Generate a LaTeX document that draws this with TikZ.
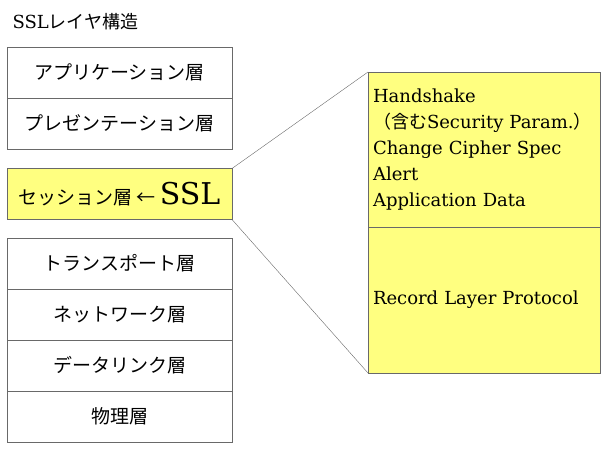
\documentclass[tikz,border=0pt]{standalone}
\usepackage{fontspec}
\setmainfont{DejaVu Serif}
\newfontfamily\jp{Noto Sans CJK JP}
\usetikzlibrary{positioning}
\definecolor{memo}{RGB}{255,255,128}
\definecolor{frame}{RGB}{105,105,105}

\begin{document}
\begin{tikzpicture}[x=1pt,y=-1pt,
  layer/.style={draw=frame,line width=0.8pt,fill=white,minimum width=225pt,minimum height=51pt,inner sep=0pt,outer sep=0pt,font={\jp\fontsize{19}{22}\selectfont}},
  hilite/.style={layer,fill=memo},
  part/.style={draw=frame,line width=0.8pt,fill=memo,minimum width=232pt,text width=222pt,align=left,inner xsep=5pt,inner ysep=0pt,outer sep=0pt,font={\fontsize{18}{26}\selectfont}}]
  \useasboundingbox (0,0) rectangle (609,448);
  \node (title) [anchor=west,font={\fontsize{18}{22}\selectfont}] at (9,22) {SSL{\jp レイヤ構造}};
  % OSI layers
  \node (app) [layer] at (119.5,72.5) {アプリケーション層};
  \node (pres) [layer,below=0pt of app] {プレゼンテーション層};
  \node (sess) [hilite] at (119.5,194) {セッション層 ←\hspace{4pt}{\rmfamily\fontsize{30}{32}\selectfont SSL}};
  \node (trans) [layer] at (119.5,263.5) {トランスポート層};
  \node (net) [layer,below=0pt of trans] {ネットワーク層};
  \node (link) [layer,below=0pt of net] {データリンク層};
  \node (phys) [layer,below=0pt of link] {物理層};
  % SSL detail
  \node (hs) [part,minimum height=155pt,anchor=north west] at (368,72)
    {Handshake\\{\jp （含む}Security Param.{\jp ）}\\Change Cipher Spec\\Alert\\Application Data};
  \node (rec) [part,minimum height=146pt,below=0pt of hs] {Record Layer Protocol};
  \draw[frame,thin] (sess.north east) -- (hs.north west);
  \draw[frame,thin] (sess.south east) -- (rec.south west);
\end{tikzpicture}
\end{document}
